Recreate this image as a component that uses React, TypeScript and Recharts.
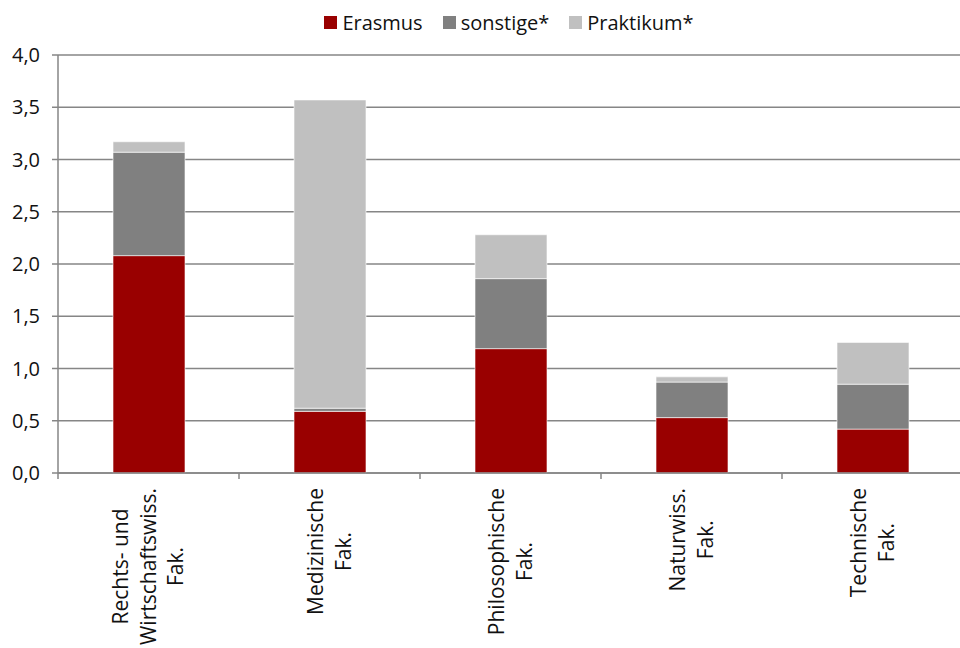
import { BarChart, Bar, XAxis, YAxis, CartesianGrid } from 'recharts';

const faculties = [
  'Rechts- und\nWirtschaftswiss.\nFak.',
  'Medizinische\nFak.',
  'Philosophische\nFak.',
  'Naturwiss.\nFak.',
  'Technische\nFak.',
];
const erasmus = [2.08, 0.59, 1.19, 0.53, 0.42];
const sonstige = [0.99, 0.03, 0.67, 0.34, 0.43];
const praktikum = [0.1, 2.95, 0.42, 0.05, 0.4];
const yTicks = [0, 0.5, 1, 1.5, 2, 2.5, 3, 3.5, 4];

const series = [
  { key: 'erasmus', name: 'Erasmus', color: '#990000' },
  { key: 'sonstige', name: 'sonstige*', color: '#808080' },
  { key: 'praktikum', name: 'Praktikum*', color: '#C0C0C0' },
];

const data = faculties.map((f, i) => ({
  faculty: f,
  erasmus: erasmus[i],
  sonstige: sonstige[i],
  praktikum: praktikum[i],
}));

const FONT = '"Open Sans", "Noto Sans", sans-serif';
const FS = 20;
const CAT_FS = 21;
const AXIS = '#868686';
const CHART_W = 965;
const LEFT = 58;
const RIGHT = 2;
const BAND = (CHART_W - LEFT - RIGHT) / faculties.length;

let ctx: CanvasRenderingContext2D | null = null;
function textWidth(s: string) {
  if (!ctx) ctx = document.createElement('canvas').getContext('2d');
  if (!ctx) return s.length * CAT_FS * 0.55;
  ctx.font = `${CAT_FS}px ${FONT}`;
  return ctx.measureText(s).width;
}

// rotated multi-line category label, lines centred, block hanging from the axis
function FacultyTick(props: any) {
  const { x, y, payload } = props;
  const lines: string[] = String(payload.value).split('\n');
  const maxW = Math.max(...lines.map(textWidth));
  const top = y + 15;
  const lh = 27.5;
  return (
    <g>
      <line x1={x - BAND / 2} x2={x - BAND / 2} y1={y} y2={y + 6} stroke={AXIS} strokeWidth={1.5} />
      <g transform={`translate(${x},${top}) rotate(-90)`}>
        {lines.map((l, i) => (
          <text
            key={i}
            x={-maxW / 2}
            y={(i - (lines.length - 1) / 2) * lh}
            dy="0.35em"
            textAnchor="middle"
            fontSize={CAT_FS}
            fontFamily={FONT}
            fill="#111"
          >
            {l}
          </text>
        ))}
      </g>
    </g>
  );
}

function LegendBox() {
  return (
    <div
      style={{
        position: 'absolute',
        top: 9,
        left: 0,
        width: 1018,
        display: 'flex',
        justifyContent: 'center',
        fontFamily: FONT,
        fontSize: FS,
        color: '#111',
      }}
    >
      {series.map((s) => (
        <span key={s.key} style={{ display: 'inline-flex', alignItems: 'center', margin: '0 10px' }}>
          <span style={{ width: 13, height: 13, background: s.color, marginRight: 5, display: 'inline-block' }} />
          {s.name}
        </span>
      ))}
    </div>
  );
}

export default function App() {
  return (
    <div style={{ position: 'absolute', left: 0, top: 0, width: 960, height: 648, overflow: 'hidden', background: '#fff' }}>
      <BarChart
        width={CHART_W}
        height={648}
        data={data}
        margin={{ top: 55, right: RIGHT, bottom: 0, left: 0 }}
        barSize={72}
      >
        <CartesianGrid vertical={false} stroke={AXIS} strokeWidth={1.5} />
        <XAxis
          dataKey="faculty"
          interval={0}
          height={175}
          tickLine={false}
          tickSize={0}
          tickMargin={0}
          axisLine={{ stroke: AXIS, strokeWidth: 1.5 }}
          tick={<FacultyTick />}
        />
        <YAxis
          width={LEFT}
          domain={[0, 4]}
          ticks={yTicks}
          interval={0}
          tickFormatter={(v: number) => v.toFixed(1).replace('.', ',')}
          tick={{ fontSize: FS, fontFamily: FONT, fill: '#111' }}
          tickSize={6}
          tickMargin={12}
          tickLine={{ stroke: AXIS, strokeWidth: 1.5 }}
          axisLine={{ stroke: AXIS, strokeWidth: 1.5 }}
        />
        {series.map((s) => (
          <Bar
            key={s.key}
            dataKey={s.key}
            name={s.name}
            stackId="a"
            fill={s.color}
            stroke="#fff"
            strokeWidth={0.6}
            isAnimationActive={false}
          />
        ))}
      </BarChart>
      <LegendBox />
    </div>
  );
}
